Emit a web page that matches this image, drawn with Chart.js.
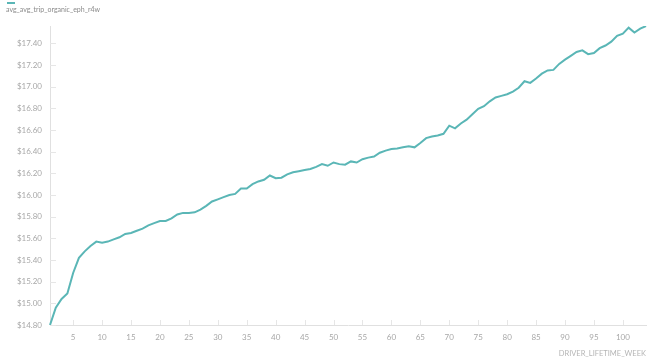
<!DOCTYPE html>
<html>
<head>
<meta charset="utf-8">
<script src="https://cdn.jsdelivr.net/npm/chart.js@4.4.1/dist/chart.umd.min.js"></script>
<style>
  html, body { margin: 0; padding: 0; background: #fff; }
  #wrap { position: relative; width: 656px; height: 359px; }
  #legend { position: absolute; left: 6px; top: 1px; font: 7px Lato, sans-serif; color: #8a8a8a; }
  #legend .swatch { width: 8px; height: 2px; background: #5ab6b6; margin: 1px 0 1px 1px; }
</style>
</head>
<body>
<div id="wrap">
  <canvas id="chart" width="656" height="359"></canvas>
  <div id="legend"><div class="swatch"></div><span id="legendText"></span></div>
</div>
<script>
// --- data ---
const seriesName = "avg_avg_trip_organic_eph_r4w";
const xTitle = "DRIVER_LIFETIME_WEEK";
const weeks = [];
for (let w = 1; w <= 104; w++) weeks.push(w);

const eph = [
  14.80, 14.96, 15.04, 15.09, 15.28, 15.42, 15.48, 15.53, 15.57, 15.56,
  15.57, 15.59, 15.61, 15.64, 15.65, 15.67, 15.69, 15.72, 15.74, 15.76,
  15.76, 15.785, 15.82, 15.835, 15.835, 15.84, 15.865, 15.90, 15.94, 15.96,
  15.98, 16.00, 16.01, 16.06, 16.06, 16.10, 16.125, 16.14, 16.18, 16.155,
  16.16, 16.19, 16.21, 16.22, 16.23, 16.24, 16.26, 16.285, 16.27, 16.30,
  16.285, 16.28, 16.31, 16.30, 16.33, 16.345, 16.355, 16.39, 16.41, 16.425,
  16.43, 16.44, 16.45, 16.44, 16.48, 16.525, 16.54, 16.55, 16.565, 16.64,
  16.615, 16.66, 16.695, 16.745, 16.795, 16.82, 16.865, 16.90, 16.915, 16.93,
  16.955, 16.99, 17.05, 17.035, 17.075, 17.12, 17.15, 17.155, 17.21, 17.25,
  17.285, 17.32, 17.335, 17.30, 17.31, 17.355, 17.38, 17.415, 17.47, 17.49,
  17.545, 17.50, 17.535, 17.56
];

const yTicks = [14.8, 15.0, 15.2, 15.4, 15.6, 15.8, 16.0, 16.2, 16.4, 16.6, 16.8, 17.0, 17.2, 17.4];

document.getElementById("legendText").innerText = seriesName;

// small tick marks drawn just inside the plot area
const innerTicks = {
  id: "innerTicks",
  afterDraw(chart) {
    const ctx = chart.ctx;
    const area = chart.chartArea;
    const x = chart.scales.x, y = chart.scales.y;
    ctx.save();
    ctx.strokeStyle = "#e6e6e6";
    ctx.lineWidth = 1;
    ctx.beginPath();
    yTicks.forEach(v => {
      const py = Math.round(y.getPixelForValue(v)) + 0.5;
      ctx.moveTo(area.left, py);
      ctx.lineTo(area.left + 6, py);
    });
    weeks.forEach((w, i) => {
      if (w % 5 !== 0) return;
      const px = Math.round(x.getPixelForValue(i)) + 0.5;
      ctx.moveTo(px, area.bottom);
      ctx.lineTo(px, area.bottom - 5);
    });
    ctx.stroke();
    ctx.restore();
  }
};

const tickFont = { family: "Lato, sans-serif", size: 8 };

new Chart(document.getElementById("chart"), {
  type: "line",
  data: {
    labels: weeks,
    datasets: [{
      label: seriesName,
      data: eph,
      borderColor: "#5ab6b6",
      borderWidth: 2,
      pointRadius: 0,
      tension: 0,
      fill: false
    }]
  },
  options: {
    responsive: false,
    animation: false,
    layout: { padding: { top: 26, right: 10, left: 0, bottom: 0 } },
    plugins: { legend: { display: false }, tooltip: { enabled: false } },
    scales: {
      x: {
        type: "category",
        offset: false,
        grid: { display: false, drawTicks: false },
        border: { display: true, color: "#e0e0e0", width: 1 },
        ticks: {
          autoSkip: false,
          maxRotation: 0,
          padding: 8,
          color: "#a8a8a8",
          font: tickFont,
          callback: function (value) {
            const w = this.getLabelForValue(value);
            return w % 5 === 0 ? String(w) : "";
          }
        },
        title: {
          display: true,
          text: xTitle,
          align: "end",
          color: "#b5b5b5",
          font: { family: "Lato, sans-serif", size: 7.5 },
          padding: { top: 0, bottom: 1 }
        },
        afterFit(scale) { scale.height = 34; }
      },
      y: {
        min: 14.8,
        max: 17.56,
        grid: { display: false, drawTicks: false },
        border: { display: true, color: "#e0e0e0", width: 1 },
        afterBuildTicks(scale) { scale.ticks = yTicks.map(v => ({ value: v })); },
        ticks: {
          padding: 8,
          color: "#a8a8a8",
          font: tickFont,
          callback: v => "$" + v.toFixed(2)
        },
        afterFit(scale) { scale.width = 50; }
      }
    }
  },
  plugins: [innerTicks]
});
</script>
</body>
</html>
